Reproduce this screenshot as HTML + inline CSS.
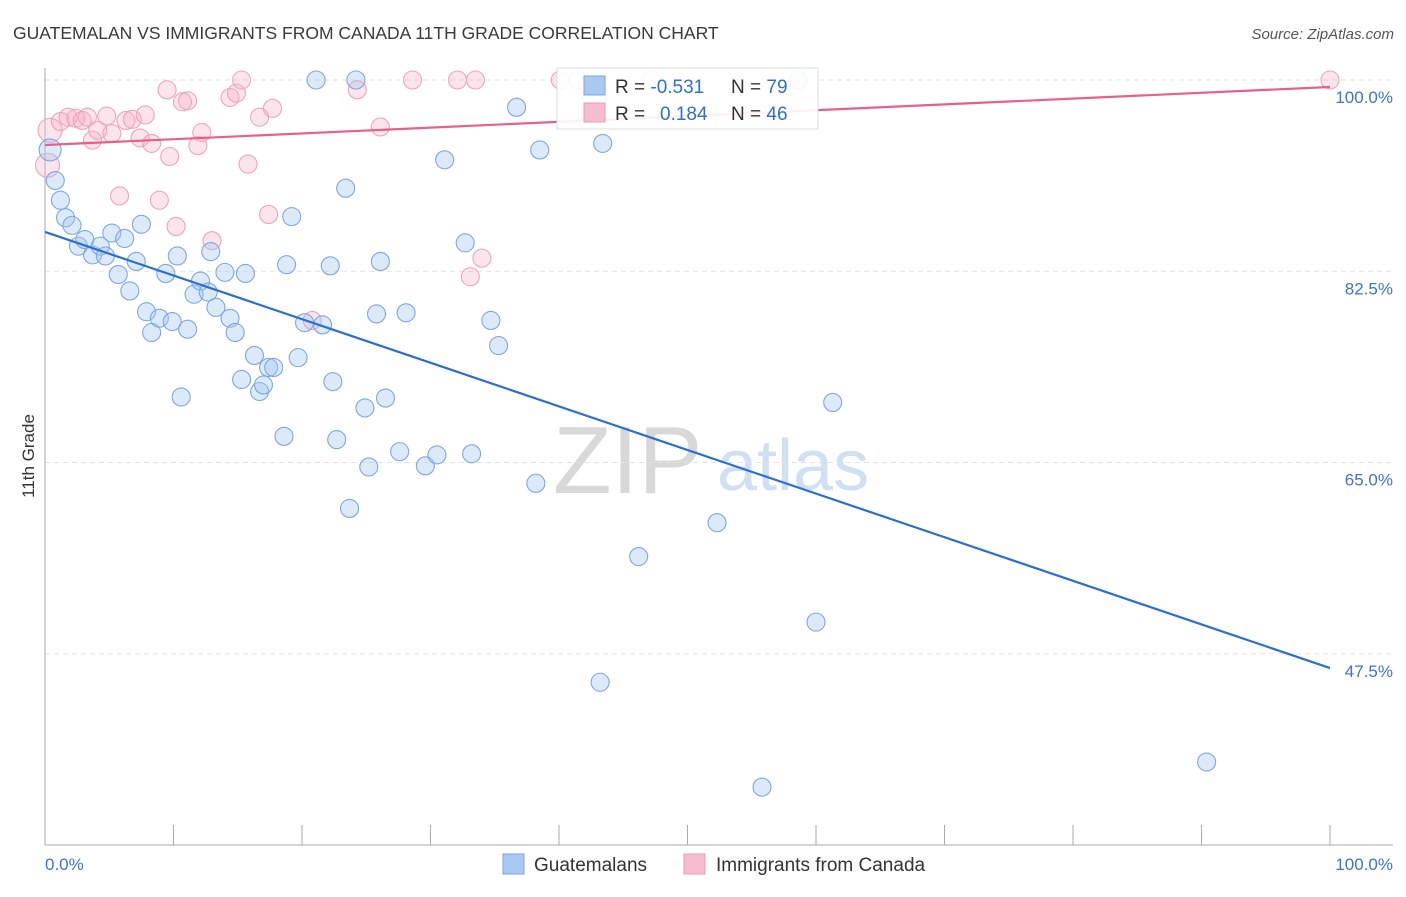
<!DOCTYPE html>
<html><head><meta charset="utf-8"><style>
body{margin:0;background:#fff;font-family:"Liberation Sans",sans-serif}
svg text{font-family:"Liberation Sans",sans-serif}
</style></head><body>
<svg id="chart" width="1406" height="892" xmlns="http://www.w3.org/2000/svg">
<text x="13" y="39" font-size="17.5" fill="#3a3a3a">GUATEMALAN VS IMMIGRANTS FROM CANADA 11TH GRADE CORRELATION CHART</text>
<text x="1394" y="39" font-size="15" fill="#555" font-style="italic" text-anchor="end">Source: ZipAtlas.com</text>
<g>
<text x="553" y="493" font-size="96" fill="#d8d8d8" font-family="Liberation Serif,serif">ZIP</text>
<text x="717" y="490" font-size="72" fill="#cfe0f5">atlas</text>
</g>
<g id="grid"></g>
<g id="axes"></g>
<g id="pts"></g>
<g id="lines"></g>
<text transform="translate(34,456) rotate(-90)" font-size="17" fill="#333" text-anchor="middle">11th Grade</text>
<g>
<rect x="557" y="68" width="261" height="61" fill="#fff" fill-opacity="0.9" stroke="#ddd"/>
<rect x="584" y="76" width="21" height="19" fill="#a9c8f2" stroke="#7aa6e4"/>
<rect x="584" y="103" width="21" height="19" fill="#f8bcd0" stroke="#ee98b6"/>
<text x="615" y="93" font-size="19" fill="#333">R = <tspan fill="#2d6fd5">-0.531</tspan><tspan x="731">N = </tspan><tspan fill="#2d6fd5">79</tspan></text>
<text x="615" y="120" font-size="19" fill="#333">R = <tspan x="660" fill="#2d6fd5">0.184</tspan><tspan x="731">N = </tspan><tspan fill="#2d6fd5">46</tspan></text>
</g>
<g>
<rect x="503" y="854" width="21" height="20" fill="#a9c8f2" stroke="#7aa6e4"/>
<text x="534" y="871" font-size="19" fill="#333">Guatemalans</text>
<rect x="684" y="854" width="21" height="20" fill="#f8bcd0" stroke="#ee98b6"/>
<text x="716" y="871" font-size="19" fill="#333">Immigrants from Canada</text>
</g>
</svg>
<script>
const blueX=[0.4,0.8,1.2,1.6,2.1,2.6,3.1,3.7,4.3,4.7,5.2,5.7,6.2,6.6,7.1,7.5,7.9,8.3,8.9,9.4,9.9,10.3,10.6,11.1,11.6,12.1,12.7,12.9,13.3,14.0,14.4,14.8,15.3,15.6,16.3,16.7,17.0,17.4,17.8,18.6,18.8,19.2,19.7,20.2,21.1,21.6,22.2,22.4,22.7,23.4,23.7,24.2,24.9,25.2,25.8,26.1,26.5,27.6,28.1,29.6,30.5,31.1,32.7,33.2,34.7,35.3,36.7,38.2,38.5,43.2,43.4,46.2,52.3,55.8,58.6,60.0,61.3,90.4];
const blueY=[93.6,90.8,89.0,87.4,86.7,84.8,85.4,84.0,84.8,83.9,86.0,82.2,85.5,80.7,83.4,86.8,78.8,76.9,78.2,82.3,77.9,83.9,71.0,77.2,80.4,81.6,80.6,84.3,79.2,82.4,78.2,76.9,72.6,82.3,74.8,71.5,72.1,73.7,73.7,67.4,83.1,87.5,74.6,77.8,100,77.6,83.0,72.4,67.1,90.1,60.8,100,70.0,64.6,78.6,83.4,70.9,66.0,78.7,64.7,65.7,92.7,85.1,65.8,78.0,75.7,97.5,63.1,93.6,44.9,94.2,56.4,59.5,35.3,100,50.4,70.5,37.6];
const pinkX=[0.4,0.2,1.2,1.8,2.4,2.9,3.3,3.7,4.1,4.8,5.2,5.8,6.3,6.8,7.4,7.8,8.3,8.9,9.5,9.7,10.2,10.7,11.1,11.9,12.2,13.0,14.4,14.9,15.3,15.8,16.7,17.4,17.7,20.8,24.3,26.1,28.6,32.1,33.1,33.5,34.0,40.1,41.5,47.2,100];
const pinkY=[95.4,92.2,96.2,96.6,96.5,96.3,96.6,94.5,95.4,96.7,95.1,89.4,96.3,96.4,94.7,96.8,94.2,89.0,99.1,93.0,86.6,98.0,98.1,94.0,95.2,85.3,98.4,98.8,100,92.3,96.6,87.7,97.4,78.0,99.1,95.7,100,100,82.0,100,83.7,100,100,100,100];
const blueTrend=[86.1,46.2];
const pinkTrend=[94.05,99.36];
const yTicks=[100,82.5,65,47.5];
const yTickLabels=["100.0%","82.5%","65.0%","47.5%"];
const xTickCount=10;

const NS="http://www.w3.org/2000/svg";
const X=v=>45+v*12.85, Y=v=>80+(100-v)*10.93;
function mk(tag,attrs,parent){const e=document.createElementNS(NS,tag);for(const k in attrs)e.setAttribute(k,attrs[k]);document.getElementById(parent).appendChild(e);return e;}
yTicks.forEach((t,i)=>{
  const g=mk('line',{x1:45,x2:1393,y1:Y(t),y2:Y(t),stroke:'#e2e2e2','stroke-dasharray':'5,4'},'grid');
  
  
  const l=mk('text',{x:1393,y:Y(t)+23,'font-size':17,fill:'#3b74d4','text-anchor':'end'},'grid');
  l.textContent=yTickLabels[i];
  
  
});
let ax=mk('line',{x1:45,x2:45,y1:68,y2:845,stroke:'#aaa'},'axes');


ax=mk('line',{x1:45,x2:1393,y1:845,y2:845,stroke:'#aaa'},'axes');


for(let i=0;i<=xTickCount;i++){
  const t=mk('line',{x1:X(i*10),x2:X(i*10),y1:825,y2:845,stroke:'#aaa'},'axes');
  
  
}
let xl=mk('text',{x:45,y:870,'font-size':17,fill:'#3b74d4'},'axes');xl.textContent='0.0%';


xl=mk('text',{x:1393,y:870,'font-size':17,fill:'#3b74d4','text-anchor':'end'},'axes');xl.textContent='100.0%';


pinkX.forEach((x,i)=>{
  const c=mk('circle',{cx:X(x),cy:Y(pinkY[i]),r:i<2?12:9,fill:'rgba(246,170,195,0.32)',stroke:'#f0a3bd','stroke-width':1.1},'pts');
  
  
});
blueX.forEach((x,i)=>{
  const c=mk('circle',{cx:X(x),cy:Y(blueY[i]),r:i==0?11:9,fill:'rgba(164,196,240,0.38)',stroke:'#7ba8e4','stroke-width':1.1},'pts');
  
  
});
let tl=mk('line',{x1:X(0),y1:Y(blueTrend[0]),x2:X(100),y2:Y(blueTrend[1]),stroke:'#2a6fd6','stroke-width':2.2},'lines');


tl=mk('line',{x1:X(0),y1:Y(pinkTrend[0]),x2:X(100),y2:Y(pinkTrend[1]),stroke:'#e8608a','stroke-width':2.2},'lines');


</script>
</body></html>
